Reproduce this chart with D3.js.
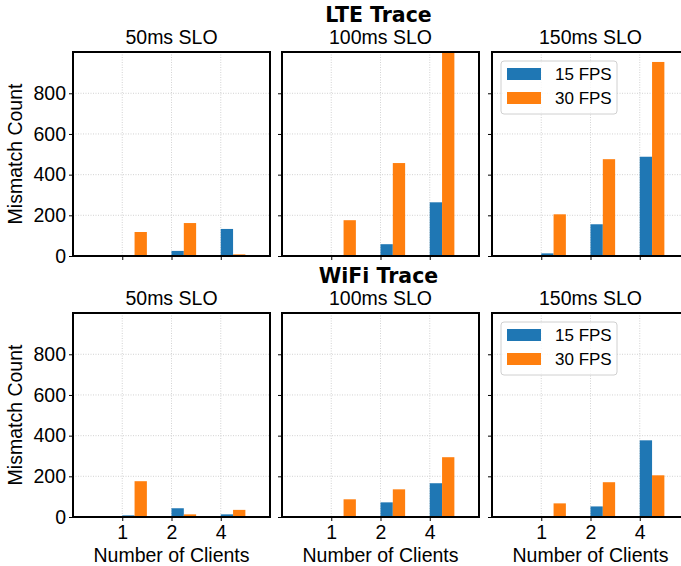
<!DOCTYPE html>
<html>
<head>
<meta charset="utf-8">
<script src="https://cdn.jsdelivr.net/npm/d3@7"></script>
<style>
body { margin: 0; background: #fff; }
text { font-family: "Liberation Sans", Arial, sans-serif; }
</style>
</head>
<body>
<script>
// data
var clients = ["1", "2", "4"];
var slos = ["50ms SLO", "100ms SLO", "150ms SLO"];
var seriesNames = ["15 FPS", "30 FPS"];
var colors = ["#1f77b4", "#ff7f0e"];
var yTicks = [0, 200, 400, 600, 800];

// LTE, per SLO, per client
var lte15 = [[0, 25, 133], [0, 58, 264], [13, 156, 488]];
var lte30 = [[118, 162, 8], [176, 457, 1010], [205, 476, 954]];
// WiFi
var wifi15 = [[8, 43, 13], [0, 72, 166], [0, 52, 377]];
var wifi30 = [[176, 13, 35], [87, 136, 294], [67, 171, 205]];

var rows = [
    { title: "LTE Trace", s15: lte15, s30: lte30, top: 52 },
    { title: "WiFi Trace", s15: wifi15, s30: wifi30, top: 313 }
];

var W = 681, H = 566;
var panelW = 197, panelH = 204;
var panelX = [73, 282, 492];

var svg = d3.select("body").append("svg")
    .attr("width", W)
    .attr("height", H);

var x = d3.scaleLinear().domain([-1, 3]).range([0, panelW]);
var y = d3.scaleLinear().domain([0, 1003]).range([panelH, 0]);

rows.forEach(function(row, r) {
    svg.append("text")
        .attr("x", panelX[1] + panelW / 2 - 2)
        .attr("y", row.top - 30)
        .attr("text-anchor", "middle")
        .style("font-family", "'DejaVu Sans', sans-serif")
        .style("font-weight", "bold")
        .style("font-size", "20.5px")
        .text(row.title);

    slos.forEach(function(slo, p) {
        var g = svg.append("g")
            .attr("transform", "translate(" + panelX[p] + "," + row.top + ")");

        g.append("defs").append("clipPath")
            .attr("id", "clip" + r + p)
            .append("rect")
            .attr("width", panelW).attr("height", panelH);

        // grid
        g.append("g").selectAll("line.gx")
            .data(clients).enter().append("line")
            .attr("x1", (d, i) => x(i)).attr("x2", (d, i) => x(i))
            .attr("y1", 0).attr("y2", panelH)
            .attr("stroke", "#c8c8c8").attr("stroke-width", 0.8)
            .attr("stroke-dasharray", "1,1.5");
        g.append("g").selectAll("line.gy")
            .data(yTicks.slice(1)).enter().append("line")
            .attr("x1", 0).attr("x2", panelW)
            .attr("y1", d => y(d)).attr("y2", d => y(d))
            .attr("stroke", "#c8c8c8").attr("stroke-width", 0.8)
            .attr("stroke-dasharray", "1,1.5");

        var bars = g.append("g").attr("clip-path", "url(#clip" + r + p + ")");
        [row.s15[p], row.s30[p]].forEach(function(vals, s) {
            bars.selectAll("rect.s" + s)
                .data(vals).enter().append("rect")
                .attr("x", (d, i) => x(i + s * 0.25))
                .attr("width", x(0.25) - x(0))
                .attr("y", d => y(d))
                .attr("height", d => panelH - y(d))
                .attr("fill", colors[s]);
        });

        // axes
        var yAxis = d3.axisLeft(y).tickValues(yTicks).tickSize(4).tickPadding(3);
        if (p > 0) yAxis.tickFormat("");
        var ya = g.append("g").call(yAxis);
        ya.select(".domain").remove();
        ya.selectAll("text").style("font-size", "19.5px").attr("fill", "#000");

        var xAxis = d3.axisBottom(x).tickValues([0, 1, 2])
            .tickFormat(r == 1 ? (d => clients[d]) : "")
            .tickSize(4).tickPadding(4);
        var xa = g.append("g").attr("transform", "translate(0," + panelH + ")").call(xAxis);
        xa.select(".domain").remove();
        xa.selectAll("text").style("font-size", "19.5px").attr("fill", "#000");

        g.append("rect")
            .attr("width", panelW).attr("height", panelH)
            .attr("fill", "none").attr("stroke", "#000").attr("stroke-width", 2);

        g.append("text")
            .attr("x", panelW / 2).attr("y", -8)
            .attr("text-anchor", "middle")
            .style("font-size", "19.5px")
            .text(slo);

        if (r == 1) {
            g.append("text")
                .attr("x", panelW / 2).attr("y", panelH + 45)
                .attr("text-anchor", "middle")
                .style("font-size", "19.5px")
                .text("Number of Clients");
        }

        if (p == 0) {
            g.append("text")
                .attr("transform", "translate(-51," + panelH / 2 + ") rotate(-90)")
                .attr("text-anchor", "middle")
                .style("font-size", "19.5px")
                .text("Mismatch Count");
        }

        if (p == 2) {
            var lg = g.append("g").attr("transform", "translate(9,9)");
            lg.append("rect")
                .attr("width", 116).attr("height", 53).attr("rx", 3)
                .attr("fill", "#fff").attr("fill-opacity", 0.8)
                .attr("stroke", "#d0d0d0").attr("stroke-width", 1);
            seriesNames.forEach(function(name, s) {
                lg.append("rect")
                    .attr("x", 6).attr("y", 7 + s * 24)
                    .attr("width", 34).attr("height", 12)
                    .attr("fill", colors[s]);
                lg.append("text")
                    .attr("x", 54).attr("y", 19 + s * 24)
                    .style("font-size", "17px")
                    .text(name);
            });
        }
    });
});
</script>
</body>
</html>
